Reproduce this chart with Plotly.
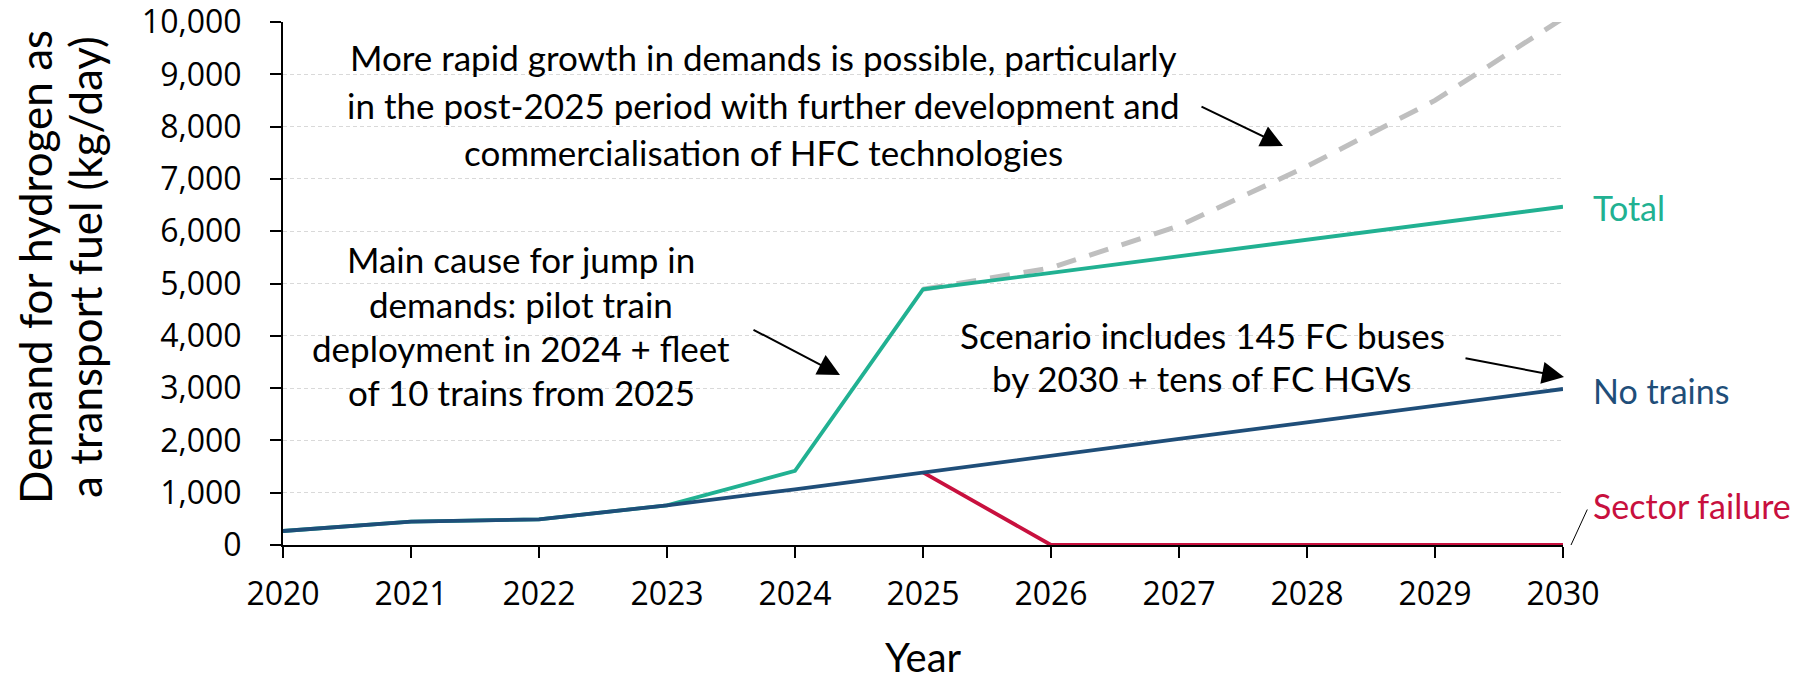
import plotly.graph_objects as go

years = [2020, 2021, 2022, 2023, 2024, 2025, 2026, 2027, 2028, 2029, 2030]
total = [268, 446, 491, 759, 1418, 4889, 5205, 5521, 5837, 6152, 6468]
no_trains = [268, 446, 491, 759, 1065, 1390, 1709, 2028, 2346, 2665, 2983]
sector_years = [2025, 2026, 2027, 2028, 2029, 2030]
sector_failure = [1390, 0, 0, 0, 0, 0]
rapid_years = [2025, 2026, 2027, 2028, 2029, 2030]
rapid_growth = [4889, 5300, 6100, 7240, 8500, 10070]

y_ticks = [0, 1000, 2000, 3000, 4000, 5000, 6000, 7000, 8000, 9000, 10000]
x_ticks = years

ytitle_lines = ["Demand for hydrogen as", "a transport fuel (kg/day)"]
note_rapid = ["More rapid growth in demands is possible, particularly",
              "in the post-2025 period with further development and",
              "commercialisation of HFC technologies"]
note_train = ["Main cause for jump in", "demands: pilot train",
              "deployment in 2024 + fleet", "of 10 trains from 2025"]
note_bus = ["Scenario includes 145 FC buses", "by 2030 + tens of FC HGVs"]

C_TOTAL = "#21B192"
C_NOTR = "#1F4E79"
C_SECT = "#C8103E"
C_RAPID = "#BFBFBF"

TXT = "Lato, Calibri, sans-serif"
TICK = "Open Sans, Segoe UI, sans-serif"

# page has an 8px body margin; figure is sized so it ends at the window edge
OFF = 8
W, H = 1813 - OFF, 682 - OFF
PX0, PX1, PY0, PY1 = 283, 1563, 22, 545   # plot area in page pixels
L, R, T, B = PX0 - OFF, 1813 - PX1, PY0 - OFF, 682 - PY1
PW, PH = PX1 - PX0, PY1 - PY0


def pxp(px):
    return (px - PX0) / PW


def pyp(py):
    return (PY1 - py) / PH


fig = go.Figure()
fig.add_trace(go.Scatter(x=rapid_years, y=rapid_growth, mode="lines",
                         line=dict(color=C_RAPID, width=5, dash="20px,14px"),
                         cliponaxis=False, showlegend=False, hoverinfo="skip"))
fig.add_trace(go.Scatter(x=sector_years, y=sector_failure, mode="lines",
                         line=dict(color=C_SECT, width=3.8), showlegend=False))
fig.add_trace(go.Scatter(x=years, y=total, mode="lines",
                         line=dict(color=C_TOTAL, width=3.8), showlegend=False))
fig.add_trace(go.Scatter(x=years, y=no_trains, mode="lines",
                         line=dict(color=C_NOTR, width=3.8), showlegend=False))

ann = []


def add_lines(lines, cx, centers, size):
    for s, cy in zip(lines, centers):
        ann.append(dict(x=pxp(cx), y=pyp(cy), xref="paper", yref="paper",
                        text=s, showarrow=False, xanchor="center", yanchor="middle",
                        font=dict(family=TXT, size=size, color="black")))


add_lines(note_rapid, 763, [57.5, 104.5, 151.5], 35)
add_lines(note_train, 521, [259.5, 303.8, 348, 392.5], 35)
add_lines(note_bus, 1202, [334.5, 378.5], 35)


def add_arrow(tail, tip, head=2, width=2, size=2.2):
    ann.append(dict(x=pxp(tip[0]), y=pyp(tip[1]), xref="paper", yref="paper",
                    ax=tail[0] - tip[0], ay=tail[1] - tip[1], text="", showarrow=True,
                    arrowhead=head, arrowwidth=width, arrowsize=size, arrowcolor="black",
                    standoff=0))


add_arrow((1200, 106), (1283, 146))
add_arrow((752, 329), (840, 375))
add_arrow((1464, 358), (1564, 377))
add_arrow((1588, 508), (1571, 545), head=0, width=1, size=1)

# series labels
for label, col, cy in [("Total", C_TOTAL, 208), ("No trains", C_NOTR, 390),
                       ("Sector failure", C_SECT, 505)]:
    ann.append(dict(x=pxp(1591), y=pyp(cy), xref="paper", yref="paper", text=label,
                    showarrow=False, xanchor="left", yanchor="middle",
                    font=dict(family=TXT, size=34, color=col)))

# y title (rotated), two lines
for s, cx in zip(ytitle_lines, [35, 85]):
    ann.append(dict(x=pxp(cx), y=pyp(267), xref="paper", yref="paper",
                    text=s, textangle=-90, showarrow=False, xanchor="center", yanchor="middle",
                    font=dict(family=TXT, size=44, color="black")))

# x title
ann.append(dict(x=0.5, y=pyp(657), xref="paper", yref="paper", text="Year",
                showarrow=False, xanchor="center", yanchor="middle",
                font=dict(family=TXT, size=40, color="black")))

fig.update_layout(
    width=W, height=H,
    margin=dict(l=L, r=R, t=T, b=B, pad=0, autoexpand=False),
    paper_bgcolor="white", plot_bgcolor="white",
    annotations=ann,
    showlegend=False,
)
fig.update_xaxes(range=[2020, 2030], tickvals=x_ticks, ticktext=[str(v) for v in x_ticks],
                 showline=True, linecolor="black", linewidth=2, ticks="outside",
                 ticklen=11, tickwidth=2, tickcolor="black", showgrid=False, zeroline=False,
                 tickfont=dict(family=TICK, size=32, color="black"), ticklabelstandoff=9,
                 automargin=False, ticklabeloverflow="allow")
fig.update_yaxes(range=[0, 10000], tickvals=y_ticks, tickformat=",",
                 showline=True, linecolor="black", linewidth=2, ticks="outside",
                 ticklen=11, tickwidth=2, tickcolor="black", showgrid=True,
                 gridcolor="#D9D9D9", gridwidth=1, griddash="4px,3px", zeroline=False,
                 tickfont=dict(family=TICK, size=32, color="black"), ticklabelstandoff=22,
                 automargin=False, ticklabeloverflow="allow")

fig.write_html("out.html")
